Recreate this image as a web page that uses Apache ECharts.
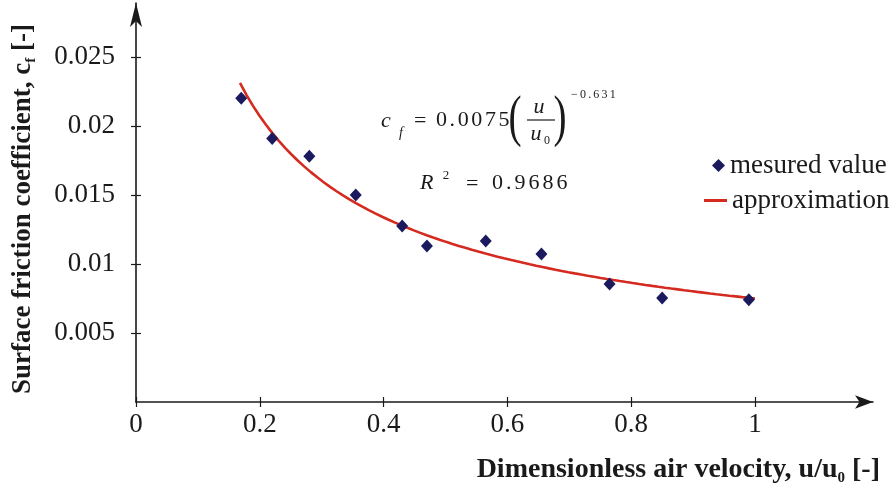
<!DOCTYPE html>
<html>
<head>
<meta charset="utf-8">
<script src="https://cdn.jsdelivr.net/npm/echarts@6/dist/echarts.min.js"></script>
<style>
  html, body { margin: 0; padding: 0; background: #fff; }
  #chart { width: 896px; height: 488px; }
</style>
</head>
<body>
<div id="chart"></div>
<script>
// Measured surface friction coefficient vs. dimensionless air velocity
const velocityRatio = [0.17, 0.22, 0.28, 0.355, 0.43, 0.47, 0.565, 0.655, 0.765, 0.85, 0.99];
const frictionCoef  = [0.0220, 0.0191, 0.0178, 0.0150, 0.01275, 0.0113, 0.01167, 0.01072, 0.00855, 0.00754, 0.0074];

// Power-law approximation c_f = A * (u/u0)^B
const fitCoefA = 0.0075;
const fitExponent = -0.631;
const fitRange = [0.168, 1.0];
const fitSteps = 80;

// Tick positions and labels
const xTickValues = [0, 0.2, 0.4, 0.6, 0.8, 1];
const xTickLabels = ['0', '0.2', '0.4', '0.6', '0.8', '1'];
const yTickValues = [0.005, 0.01, 0.015, 0.02, 0.025];
const yTickLabels = ['0.005', '0.01', '0.015', '0.02', '0.025'];

const SERIF = '"Liberation Serif", "DejaVu Serif", serif';
const INK = '#1a1a1a';
const MARKER = '#1b1a5e';
const FIT_RED = '#d42a1f';

const fitCurve = [];
for (let i = 0; i <= fitSteps; i++) {
  const x = fitRange[0] + (fitRange[1] - fitRange[0]) * i / fitSteps;
  fitCurve.push([x, fitCoefA * Math.pow(x, fitExponent)]);
}
const measured = velocityRatio.map((v, i) => [v, frictionCoef[i]]);

function labelFor(values, labels) {
  return v => {
    const i = values.findIndex(t => Math.abs(t - v) < 1e-9);
    return i >= 0 ? labels[i] : '';
  };
}

// canvas text measurement for letter-spaced runs
const measureCtx = document.createElement('canvas').getContext('2d');
function spacedRun(str, left, midY, size, gap, italic) {
  const font = (italic ? 'italic ' : '') + size + 'px ' + SERIF;
  measureCtx.font = font;
  const out = [];
  let x = left;
  for (const ch of str) {
    const w = measureCtx.measureText(ch).width;
    out.push({
      type: 'text', x: x, y: midY, silent: true,
      style: { text: ch, font: font, fill: INK, align: 'left', verticalAlign: 'middle' }
    });
    x += w + gap;
  }
  return out;
}
function glyph(str, x, y, size, italic, align, scaleX) {
  return {
    type: 'text', x: x, y: y, scaleX: scaleX || 1, silent: true,
    style: {
      text: str, font: (italic ? 'italic ' : '') + size + 'px ' + SERIF,
      fill: INK, align: align || 'center', verticalAlign: 'middle'
    }
  };
}

function titleRich(size) {
  return {
    b: { fontFamily: SERIF, fontWeight: 'bold', fontSize: size, fill: INK, lineHeight: size + 4 },
    s: { fontFamily: SERIF, fontWeight: 'bold', fontSize: 15, fill: INK, lineHeight: size + 4, verticalAlign: 'bottom' }
  };
}

const equation = [].concat(
  [glyph('c', 381, 121, 22, true, 'left'), glyph('f', 399, 133, 14, true, 'left'), glyph('=', 414, 121, 22, false, 'left')],
  spacedRun('0.0075', 436, 120, 22, 2.6, false),
  [
    glyph('(', 515, 120, 56, false, 'center', 0.7),
    glyph(')', 560, 120, 56, false, 'center', 0.7),
    glyph('u', 539, 107, 22, true),
    { type: 'line', silent: true, shape: { x1: 527, y1: 120, x2: 555, y2: 120 }, style: { stroke: INK, lineWidth: 1.2 } },
    glyph('u', 536, 134, 22, true),
    glyph('0', 547, 141, 12, false)
  ],
  spacedRun('\u22120.631', 571, 95, 12, 2.2, false),
  [glyph('R', 420, 183, 22, true, 'left'), glyph('2', 446, 176, 13, false), glyph('=', 466, 184, 22, false, 'left')],
  spacedRun('0.9686', 492, 183, 22, 3, false)
);

const chart = echarts.init(document.getElementById('chart'), null, { renderer: 'canvas' });

const xBase = { type: 'value', min: 0, max: 1.1906, splitLine: { show: false } };
const yBase = { type: 'value', min: 0, max: 0.02891, splitLine: { show: false } };
const tickLine = { color: INK, width: 1.2 };

chart.setOption({
  animation: false,
  backgroundColor: '#fff',
  grid: { left: 136, right: 23, top: 3, bottom: 86, containLabel: false },
  xAxis: [
    Object.assign({}, xBase, {
      position: 'bottom',
      axisLine: { show: true, symbol: ['none', 'arrow'], symbolSize: [10, 18], lineStyle: { color: INK, width: 1.6 } },
      axisTick: { show: true, inside: false, length: 5, customValues: xTickValues, lineStyle: tickLine },
      axisLabel: {
        show: true, margin: 9, color: INK, fontFamily: SERIF, fontSize: 27,
        customValues: xTickValues, formatter: labelFor(xTickValues, xTickLabels)
      }
    }),
    Object.assign({}, xBase, {
      position: 'bottom',
      axisLine: { show: false },
      axisTick: { show: true, inside: true, length: 5, customValues: xTickValues, lineStyle: tickLine },
      axisLabel: { show: false }
    })
  ],
  yAxis: [
    Object.assign({}, yBase, {
      position: 'left',
      axisLine: { show: true, symbol: ['none', 'arrow'], symbolSize: [9, 24], lineStyle: { color: INK, width: 1.6 } },
      axisTick: { show: true, inside: false, length: 5, customValues: yTickValues, lineStyle: tickLine },
      axisLabel: {
        show: true, margin: 21, color: INK, fontFamily: SERIF, fontSize: 27,
        customValues: yTickValues, formatter: labelFor(yTickValues, yTickLabels)
      }
    }),
    Object.assign({}, yBase, {
      position: 'left',
      axisLine: { show: false },
      axisTick: { show: true, inside: true, length: 5, customValues: yTickValues, lineStyle: tickLine },
      axisLabel: { show: false }
    })
  ],
  legend: [
    {
      data: [{ name: 'mesured value', icon: 'diamond' }],
      left: 707, top: 147, orient: 'vertical',
      itemWidth: 13, itemHeight: 13, itemGap: 0, selectedMode: false,
      itemStyle: { color: MARKER, opacity: 1 },
      textStyle: { fontFamily: SERIF, fontSize: 27, color: INK }
    },
    {
      data: [{ name: 'approximation', icon: 'rect' }],
      left: 699, top: 182, orient: 'vertical',
      itemWidth: 23, itemHeight: 3, itemGap: 0, selectedMode: false,
      itemStyle: { color: FIT_RED },
      textStyle: { fontFamily: SERIF, fontSize: 27, color: INK }
    }
  ],
  series: [
    {
      name: 'approximation', type: 'line', data: fitCurve,
      xAxisIndex: 0, yAxisIndex: 0,
      showSymbol: false, symbol: 'none', smooth: false, z: 2,
      lineStyle: { color: FIT_RED, width: 2.6 }, itemStyle: { color: FIT_RED }
    },
    {
      name: 'mesured value', type: 'scatter', data: measured,
      xAxisIndex: 0, yAxisIndex: 0,
      symbol: 'diamond', symbolSize: [12, 13], z: 3,
      itemStyle: { color: MARKER, opacity: 1 }
    }
  ],
  graphic: [
    {
      type: 'text', x: 23, y: 209, rotation: Math.PI / 2, silent: true,
      style: {
        text: '{b|Surface friction coefficient, c}{s|f}{b| [-]}',
        rich: titleRich(27), align: 'center', verticalAlign: 'middle'
      }
    },
    {
      type: 'text', x: 880, y: 470, silent: true,
      style: {
        text: '{b|Dimensionless air velocity, u/u}{s|0}{b| [-]}',
        rich: titleRich(28), align: 'right', verticalAlign: 'middle'
      }
    }
  ].concat(equation)
});
</script>
</body>
</html>
